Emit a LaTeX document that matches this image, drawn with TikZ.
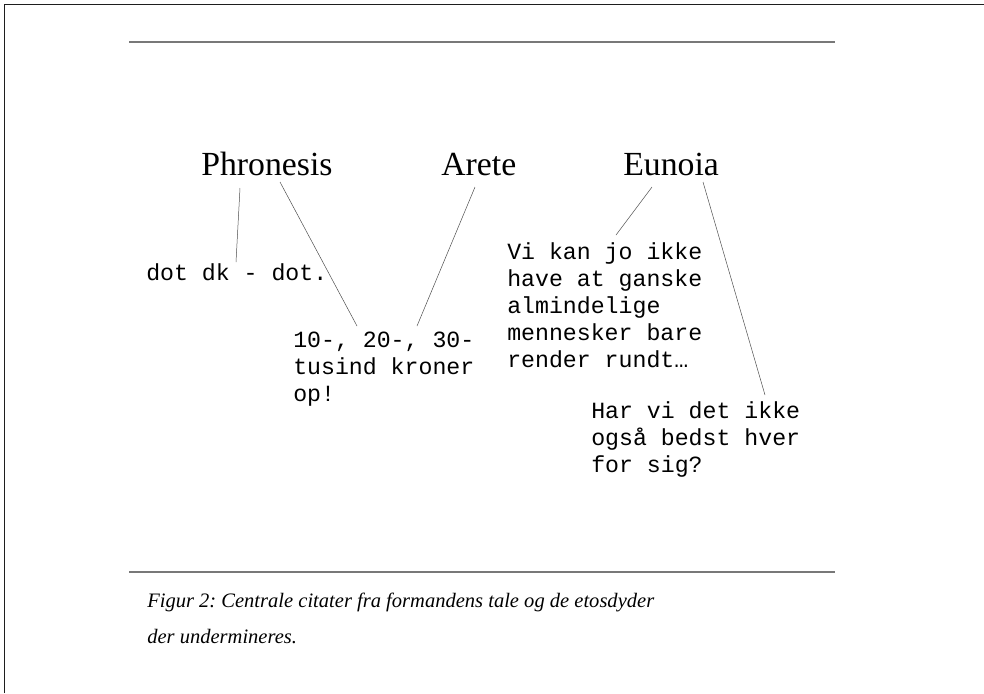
\documentclass[tikz,border=0pt]{standalone}
\usepackage{fontspec}
\setmainfont{Liberation Serif}
\setmonofont{Liberation Mono}
\usepackage{tikz}
\usetikzlibrary{positioning, calc}
\definecolor{ruleGray}{RGB}{120, 120, 120}
\definecolor{frameDark}{RGB}{30, 30, 30}
\frenchspacing

\begin{document}
\begin{tikzpicture}[
    x=0.025cm, y=-0.025cm,
    virtue/.style={
        inner sep=0pt,
        anchor=base west,
        font=\fontsize{24}{28}\selectfont
    },
    quote/.style={
        inner sep=0pt,
        anchor=base west,
        align=left,
        font=\fontsize{16.5}{19.1}\selectfont\ttfamily
    },
    link/.style={
        draw=black!70,
        line width=0.35pt
    },
    hrule/.style={
        draw=ruleGray,
        line width=1.1pt
    }
]
    \useasboundingbox (0,0) rectangle (984,693);

    % Page frame and rules
    \draw[frameDark, line width=0.8pt] (4.5,693) -- (4.5,4.5) -- (984,4.5);
    \draw[hrule] (129,42) -- (835,42);
    \draw[hrule] (129,572) -- (835,572);

    % Virtues
    \node[virtue] (phron) at (201,175) {Phronesis};
    \node[virtue] (arete) at (441,175) {Arete};
    \node[virtue] (eunoia) at (623,175) {Eunoia};

    % Quotes (anchored at the baseline of their last line)
    \node[quote] (dot) at (146,280) {dot dk - dot.};
    \node[quote] (kroner) at (293,401) {10-, 20-, 30-\\tusind kroner\\op!};
    \node[quote] (rundt) at (507,367) {Vi kan jo ikke\\have at ganske\\almindelige\\mennesker bare\\render rundt\ldots};
    \node[quote] (sig) at (591,472) {Har vi det ikke\\også bedst hver\\for sig?};

    % Caption
    \node[inner sep=0pt, anchor=base west, align=left,
          font=\fontsize{14.6}{25}\selectfont\itshape] (caption) at (147,643)
        {Figur 2: Centrale citater fra formandens tale og de etosdyder\\der undermineres.};

    % Connectors
    \coordinate (phron-l) at (240,188);
    \coordinate (phron-r) at (280,182);
    \coordinate (arete-c) at (475,187);
    \coordinate (eunoia-l) at (652,187);
    \coordinate (eunoia-r) at (703,182);
    \coordinate (dot-top) at (236,262);
    \coordinate (kroner-l) at (357,326);
    \coordinate (kroner-r) at (417,326);
    \coordinate (rundt-top) at (616,235);
    \coordinate (sig-top) at (765,395);

    \draw[link] (phron-l) -- (dot-top);
    \draw[link] (phron-r) -- (kroner-l);
    \draw[link] (arete-c) -- (kroner-r);
    \draw[link] (eunoia-l) -- (rundt-top);
    \draw[link] (eunoia-r) -- (sig-top);

\end{tikzpicture}
\end{document}
